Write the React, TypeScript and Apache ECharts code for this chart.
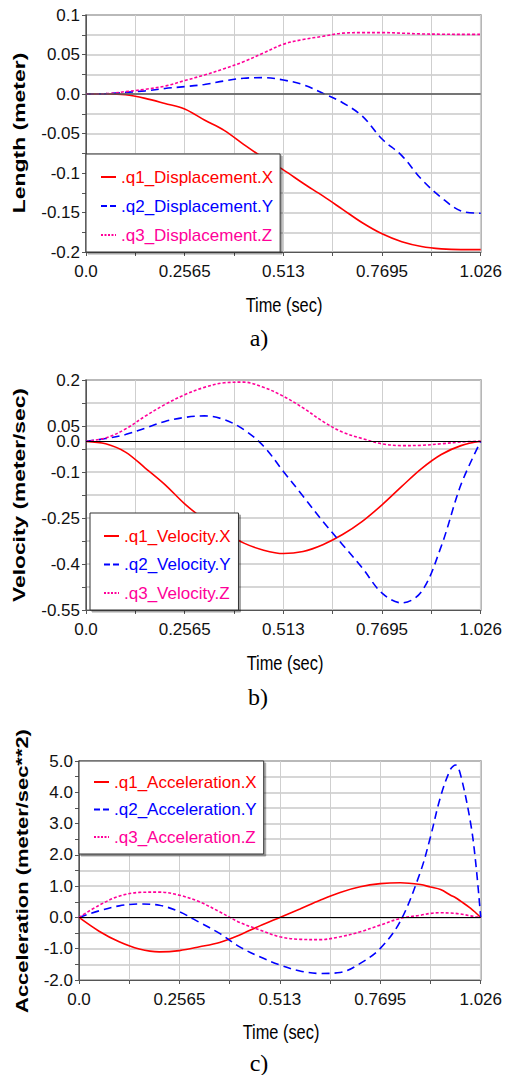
import React, { useEffect, useRef } from "react";
import * as echarts from "echarts";

// ---- shared x axis ----
const X_STEP = 0.12825;
const X_LABELS = ["0.0", "0.2565", "0.513", "0.7695", "1.026"];
const TIME = [0, 0.0513, 0.1026, 0.1539, 0.2052, 0.2565, 0.3078, 0.3591, 0.4104, 0.4617, 0.513, 0.5643, 0.6156, 0.6669, 0.7182, 0.7695, 0.8208, 0.8721, 0.9234, 0.9747, 1.026];
const TIME_C = [0, 0.0513, 0.1026, 0.1539, 0.2052, 0.2565, 0.3078, 0.3591, 0.4104, 0.4617, 0.513, 0.5643, 0.6156, 0.6669, 0.7182, 0.7695, 0.8208, 0.8721, 0.89775, 0.9234, 0.94905, 0.961875, 0.9747, 1.00035, 1.013175, 1.026];

// ---- a) displacement ----
const A_TICKS = ["-0.2", "-0.15", "-0.1", "-0.05", "0.0", "0.05", "0.1"];
const DISP_X = [0, 0, -0.001, -0.0055, -0.012, -0.019, -0.033, -0.046, -0.064, -0.081, -0.096, -0.113, -0.129, -0.146, -0.163, -0.177, -0.187, -0.193, -0.196, -0.197, -0.197];
const DISP_Y = [0, 0.0004, 0.002, 0.004, 0.007, 0.0093, 0.012, 0.0165, 0.02, 0.0207, 0.0177, 0.0118, 0.001, -0.011, -0.028, -0.057, -0.078, -0.108, -0.131, -0.148, -0.151];
const DISP_Z = [0, 0.0004, 0.003, 0.006, 0.01, 0.017, 0.024, 0.032, 0.041, 0.052, 0.063, 0.069, 0.073, 0.077, 0.0777, 0.0777, 0.077, 0.076, 0.0757, 0.0755, 0.0755];

// ---- b) velocity ----
const B_TICKS = ["-0.55", "-0.4", "-0.25", "-0.1", "0.05", "0.2"];
const VEL_X = [0, -0.008, -0.035, -0.087, -0.141, -0.204, -0.255, -0.296, -0.332, -0.355, -0.366, -0.359, -0.337, -0.304, -0.261, -0.207, -0.147, -0.089, -0.043, -0.014, 0];
const VEL_Y = [0, 0.009, 0.022, 0.043, 0.065, 0.078, 0.083, 0.071, 0.038, -0.016, -0.098, -0.179, -0.261, -0.337, -0.413, -0.495, -0.527, -0.49, -0.342, -0.141, 0];
const VEL_Z = [0, 0.011, 0.04, 0.082, 0.12, 0.152, 0.176, 0.191, 0.193, 0.176, 0.147, 0.109, 0.065, 0.03, 0.009, -0.008, -0.014, -0.013, -0.008, -0.002, 0];

// ---- c) acceleration ----
const C_TICKS = ["-2.0", "-1.0", "0.0", "1.0", "2.0", "3.0", "4.0", "5.0"];
const ACC_X = [0, -0.44, -0.78, -1.01, -1.1, -1.06, -0.94, -0.8, -0.56, -0.27, 0, 0.27, 0.55, 0.8, 0.98, 1.08, 1.11, 1.05, 0.97, 0.89, 0.71, 0.63, 0.52, 0.29, 0.15, 0];
const ACC_Y = [0, 0.21, 0.37, 0.43, 0.39, 0.18, -0.16, -0.51, -0.94, -1.26, -1.52, -1.71, -1.79, -1.76, -1.47, -0.99, -0.12, 1.46, 2.58, 3.86, 4.74, 4.87, 4.55, 3.0, 1.75, 0];
const ACC_Z = [0, 0.39, 0.68, 0.8, 0.81, 0.71, 0.5, 0.18, -0.16, -0.4, -0.62, -0.7, -0.71, -0.62, -0.46, -0.245, -0.03, 0.07, 0.13, 0.15, 0.14, 0.13, 0.11, 0.05, 0.02, 0];

const RED = "#ff0000";
const BLUE = "#0000ff";
const PINK = "#ff0099";
const FONT = '"Liberation Sans", Arial, sans-serif';
const SERIF = '"Liberation Serif", "Times New Roman", serif';

const xFmt = (v: number) => {
  const i = Math.round(v / X_STEP);
  return i % 2 === 0 ? X_LABELS[i / 2] : "";
};
const yFmt = (ticks: string[], min: number, step: number) => (v: number) => {
  const i = Math.round((v - min) / step);
  return i % 2 === 0 ? ticks[i / 2] ?? "" : "";
};

const xAxisFor = (gridIndex: number) => ({
  type: "value",
  gridIndex,
  min: 0,
  max: 1.026,
  interval: X_STEP,
  axisLine: { show: true, onZero: false, lineStyle: { color: "#555", width: 1 } },
  axisTick: { show: true, length: 4, lineStyle: { color: "#555" } },
  axisLabel: { formatter: xFmt, fontFamily: FONT, fontSize: 17, color: "#111", margin: 11 },
  splitLine: { show: true, lineStyle: { color: "#cfcfcf", width: 1 } },
});

const yAxisFor = (gridIndex: number, min: number, max: number, step: number, fmt: any) => ({
  type: "value",
  gridIndex,
  min,
  max,
  interval: step,
  axisLine: { show: true, onZero: false, lineStyle: { color: "#555", width: 1 } },
  axisTick: { show: true, length: 4, lineStyle: { color: "#555" } },
  axisLabel: { formatter: fmt, fontFamily: FONT, fontSize: 17, color: "#111", margin: 6 },
  splitLine: { show: true, lineStyle: { color: "#c8c8c8", width: 1.5 } },
});

const pairs = (t: number[], v: number[]) => t.map((x, i) => [x, v[i]]);

const lineSeries = (name: string, idx: number, t: number[], v: number[], color: string, type: any, zero?: any) => ({
  name,
  type: "line",
  xAxisIndex: idx,
  yAxisIndex: idx,
  data: pairs(t, v),
  symbol: "none",
  smooth: 0.35,
  lineStyle: { color, width: 1.6, type },
  itemStyle: { color },
  ...(zero ? { markLine: zero } : {}),
});

const zeroLine = (color: string, width: number, label: boolean) => ({
  silent: true,
  symbol: "none",
  animation: false,
  data: [{ yAxis: 0 }],
  lineStyle: { color, width, type: "solid" },
  label: label
    ? { show: true, position: "start", formatter: "0.0", fontFamily: FONT, fontSize: 17, color: "#111", distance: 6 }
    : { show: false },
});

const legendFor = (names: string[], left: number, top: number, padding: number[], gap: number) => ({
  orient: "vertical",
  left,
  top,
  padding,
  itemGap: gap,
  itemWidth: 15,
  itemHeight: 10,
  backgroundColor: "#fff",
  borderColor: "#333",
  borderWidth: 1,
  borderRadius: 0,
  shadowColor: "rgba(0,0,0,0.35)",
  shadowOffsetX: 2,
  shadowOffsetY: 2,
  shadowBlur: 1,
  itemStyle: { opacity: 0 },
  textStyle: { fontFamily: FONT, fontSize: 17, lineHeight: 22 },
  data: [
    { name: names[0], textStyle: { color: RED }, lineStyle: { type: "solid" } },
    { name: names[1], textStyle: { color: BLUE }, lineStyle: { type: [6, 3] } },
    { name: names[2], textStyle: { color: PINK }, lineStyle: { type: [2, 1.5] } },
  ],
});

const label = (text: string, x: number, y: number, font: string, rotate = false, sx = 1) => ({
  type: "text",
  x,
  y,
  rotation: rotate ? Math.PI / 2 : 0,
  scaleX: sx,
  style: {
    text,
    font,
    fill: "#000",
    align: "center",
    verticalAlign: "middle",
    textAlign: "center",
    textVerticalAlign: "middle",
  },
});

const DASH = [8, 5];
const DOT = [3, 2];

export default function App() {
  const ref = useRef<HTMLDivElement>(null);
  useEffect(() => {
    if (!ref.current) return;
    const chart = echarts.init(ref.current, undefined, { renderer: "svg" });
    const A = [".q1_Displacement.X", ".q2_Displacement.Y", ".q3_Displacement.Z"];
    const B = [".q1_Velocity.X", ".q2_Velocity.Y", ".q3_Velocity.Z"];
    const C = [".q1_Acceleration.X", ".q2_Acceleration.Y", ".q3_Acceleration.Z"];
    const gridStyle = { show: true, borderColor: "#666", borderWidth: 1.5, backgroundColor: "#fff" };
    const nameFont = `bold 17px ${FONT}`;
    chart.setOption({
      animation: false,
      backgroundColor: "#fff",
      grid: [
        { left: 86, top: 15, width: 396, height: 237, ...gridStyle },
        { left: 86, top: 380, width: 397, height: 230, ...gridStyle },
        { left: 79, top: 761, width: 404, height: 219, ...gridStyle },
      ],
      xAxis: [xAxisFor(0), xAxisFor(1), xAxisFor(2)],
      yAxis: [
        yAxisFor(0, -0.2, 0.1, 0.025, yFmt(A_TICKS, -0.2, 0.025)),
        yAxisFor(1, -0.55, 0.2, 0.075, yFmt(B_TICKS, -0.55, 0.075)),
        yAxisFor(2, -2, 5, 0.5, yFmt(C_TICKS, -2, 0.5)),
      ],
      legend: [
        legendFor(A, 86, 154, [12, 7, 6, 14], 7),
        legendFor(B, 90, 513, [12, 8, 6, 13], 6.5),
        legendFor(C, 79, 761, [10, 7, 6, 14], 5.5),
      ],
      series: [
        lineSeries(A[0], 0, TIME, DISP_X, RED, "solid", zeroLine("#555", 1.5, false)),
        lineSeries(A[1], 0, TIME, DISP_Y, BLUE, DASH),
        lineSeries(A[2], 0, TIME, DISP_Z, PINK, DOT),
        lineSeries(B[0], 1, TIME, VEL_X, RED, "solid", zeroLine("#000", 1, true)),
        lineSeries(B[1], 1, TIME, VEL_Y, BLUE, DASH),
        lineSeries(B[2], 1, TIME, VEL_Z, PINK, DOT),
        lineSeries(C[0], 2, TIME_C, ACC_X, RED, "solid", zeroLine("#000", 1, false)),
        lineSeries(C[1], 2, TIME_C, ACC_Y, BLUE, DASH),
        lineSeries(C[2], 2, TIME_C, ACC_Z, PINK, DOT),
      ],
      graphic: [
        label("Length (meter)", 19, 133, nameFont, true, 1.35),
        label("Velocity (meter/sec)", 19, 495, nameFont, true, 1.34),
        label("Acceleration (meter/sec**2)", 22, 871, nameFont, true, 1.29),
        label("Time (sec)", 284, 305, `20px ${FONT}`, false, 0.82),
        label("Time (sec)", 285, 663, `20px ${FONT}`, false, 0.82),
        label("Time (sec)", 281, 1032, `20px ${FONT}`, false, 0.82),
        label("a)", 259, 338, `24px ${SERIF}`),
        label("b)", 258, 697, `24px ${SERIF}`),
        label("c)", 259, 1063, `24px ${SERIF}`),
      ],
    });
    return () => chart.dispose();
  }, []);
  return (
    <div
      ref={ref}
      style={{ position: "absolute", left: 0, top: 0, width: 505, height: 1075, background: "#fff" }}
    />
  );
}
